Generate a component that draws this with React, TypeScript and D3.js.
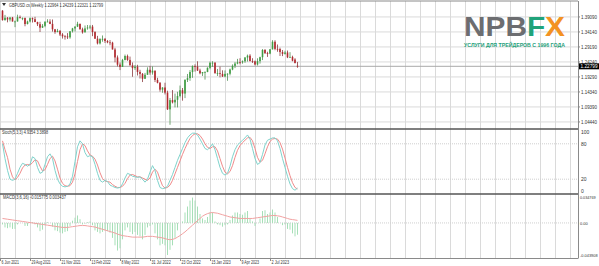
import React from "react";
import * as d3 from "d3";

// ---------- DATA (weekly bars from 13 Jun 2021) ----------
const opens = [1.4115,1.3805,1.3882,1.3825,1.3890,1.3758,1.3760,1.3900,1.3870,1.3872,
1.3675,1.3759,1.3868,1.3835,1.3740,1.3670,1.3555,1.3615,1.3745,1.3755,
1.3680,1.3500,1.3410,1.3450,1.3330,1.3270,1.3265,1.3235,1.3435,1.3530,
1.3590,1.3680,1.3500,1.3400,1.3530,1.3560,1.3590,1.3410,1.3190,1.3035,
1.3180,1.3185,1.3115,1.3070,1.3060,1.2835,1.2572,1.2335,1.2260,1.2490,
1.2620,1.2490,1.2310,1.2220,1.2265,1.2095,1.2030,1.1870,1.2000,1.2165,
1.2075,1.2135,1.1830,1.1735,1.1510,1.1580,1.1410,1.0860,1.1165,1.1090,
1.1175,1.1300,1.1490,1.1380,1.1830,1.1890,1.2090,1.2285,1.2270,1.2140,
1.2050,1.2090,1.2095,1.2230,1.2395,1.2398,1.2050,1.2055,1.2030,1.1945,
1.2030,1.2035,1.2175,1.2295,1.2370,1.2415,1.2410,1.2445,1.2570,1.2630,
1.2450,1.2445,1.2340,1.2450,1.2580,1.2820,1.2715,1.2700,1.2840,1.3090,
1.2855,1.2850,1.2750,1.2690,1.2735,1.2575,1.2590,1.2505,1.22964];
const highs = [1.4134,1.3976,1.3905,1.3908,1.3910,1.3790,1.3984,1.3958,1.3892,1.3890,
1.3787,1.3891,1.3890,1.3913,1.3751,1.3749,1.3674,1.3774,1.3834,1.3834,
1.3825,1.3513,1.3514,1.3475,1.3375,1.3309,1.3375,1.3438,1.3549,1.3599,
1.3749,1.3690,1.3555,1.3628,1.3643,1.3643,1.3645,1.3437,1.3285,1.3208,
1.3298,1.3215,1.3145,1.3146,1.3090,1.2890,1.2638,1.2406,1.2525,1.2667,
1.2667,1.2600,1.2406,1.2324,1.2330,1.2165,1.2059,1.2063,1.2246,1.2293,
1.2276,1.2140,1.1900,1.1760,1.1590,1.1738,1.1475,1.1235,1.1495,1.1380,
1.1440,1.1645,1.1564,1.1855,1.2028,1.2154,1.2310,1.2345,1.2446,1.2200,
1.2086,1.2110,1.2246,1.2436,1.2448,1.2418,1.2193,1.2270,1.2148,1.2144,
1.2050,1.2204,1.2343,1.2424,1.2525,1.2546,1.2474,1.2585,1.2667,1.2680,
1.2547,1.2472,1.2544,1.2597,1.2848,1.2848,1.2760,1.2850,1.3142,1.3140,
1.3000,1.2895,1.2818,1.2794,1.2800,1.2746,1.2630,1.2548,1.24239];
const lows = [1.3787,1.3786,1.3731,1.3760,1.3759,1.3572,1.3757,1.3862,1.3802,1.3601,
1.3662,1.3727,1.3726,1.3738,1.3609,1.3412,1.3545,1.3571,1.3740,1.3671,
1.3424,1.3353,1.3404,1.3280,1.3195,1.3160,1.3180,1.3190,1.3395,1.3430,
1.3575,1.3495,1.3358,1.3400,1.3487,1.3505,1.3274,1.3187,1.3002,1.2999,
1.3092,1.3050,1.3040,1.2973,1.2836,1.2411,1.2275,1.2155,1.2260,1.2475,
1.2459,1.2315,1.1934,1.2160,1.1976,1.1876,1.1760,1.1860,1.2000,1.2002,
1.2005,1.1760,1.1717,1.1444,1.1407,1.1351,1.0839,1.0350,1.1055,1.0924,
1.0923,1.1255,1.1146,1.1230,1.1762,1.1801,1.1900,1.2106,1.2125,1.2017,
1.1962,1.1841,1.2085,1.2180,1.2263,1.2042,1.1961,1.1915,1.1927,1.1920,
1.1802,1.1980,1.2150,1.2220,1.2346,1.2345,1.2367,1.2395,1.2436,1.2445,
1.2390,1.2308,1.2307,1.2368,1.2485,1.2686,1.2590,1.2678,1.2835,1.2810,
1.2760,1.2620,1.2616,1.2666,1.2550,1.2560,1.2445,1.2380,1.22321];
const closes = [1.3805,1.3882,1.3825,1.3890,1.3758,1.3760,1.3900,1.3870,1.3872,1.3675,
1.3759,1.3868,1.3835,1.3740,1.3670,1.3555,1.3615,1.3745,1.3755,1.3680,
1.3500,1.3410,1.3450,1.3330,1.3270,1.3265,1.3235,1.3435,1.3530,1.3590,
1.3680,1.3500,1.3400,1.3530,1.3560,1.3590,1.3410,1.3190,1.3035,1.3180,
1.3185,1.3115,1.3070,1.3060,1.2835,1.2572,1.2335,1.2260,1.2490,1.2620,
1.2490,1.2310,1.2220,1.2265,1.2095,1.2030,1.1870,1.2000,1.2165,1.2075,
1.2135,1.1830,1.1735,1.1510,1.1580,1.1410,1.0860,1.1165,1.1090,1.1175,
1.1300,1.1490,1.1380,1.1830,1.1890,1.2090,1.2285,1.2270,1.2140,1.2050,
1.2090,1.2095,1.2230,1.2395,1.2398,1.2050,1.2055,1.2030,1.1945,1.2030,
1.2035,1.2175,1.2295,1.2370,1.2415,1.2410,1.2445,1.2570,1.2630,1.2450,
1.2445,1.2340,1.2450,1.2580,1.2820,1.2715,1.2700,1.2840,1.3090,1.2855,
1.2850,1.2750,1.2690,1.2735,1.2575,1.2590,1.2465,1.2385,1.22799];

const stochMain = [80,55,35,20,18,20,30,40,47,45,
42,45,58,55,40,30,32,45,58,63,
55,35,20,12,8,7,8,12,25,50,
75,85,80,65,58,60,58,45,30,18,
15,18,16,10,8,6,5,6,12,22,
30,28,25,24,23,24,20,15,20,32,
43,35,18,6,4,5,8,18,28,40,
52,62,72,82,90,95,98,98,95,88,
80,72,70,74,80,70,55,40,30,27,
30,42,58,70,78,82,86,90,95,88,
72,55,45,48,62,78,86,88,90,90,
85,72,55,40,25,12,4,1.3,4.94];
const stochSignal = [85,70,57,37,24,19,23,30,39,44,
45,44,48,53,51,42,34,36,45,55,
59,51,37,22,13,9,8,9,15,29,
50,70,80,77,68,61,59,54,44,31,
21,17,16,15,11,8,6,6,8,13,
21,27,28,26,24,24,22,20,18,22,
32,37,32,20,9,5,6,10,18,29,
40,51,62,72,81,89,94,97,97,94,
88,80,74,72,75,75,68,55,42,32,
29,33,43,57,69,77,82,86,90,91,
85,72,57,49,52,63,75,84,88,89,
88,82,71,56,40,26,14,6,3.39];

const macdHist = [-0.002,-0.006,-0.007,-0.006,-0.008,-0.008,-0.002,0.000,0.000,-0.004,
-0.004,0.000,0.001,-0.002,-0.006,-0.011,-0.009,-0.003,0.001,0.000,
-0.005,-0.010,-0.011,-0.013,-0.014,-0.012,-0.011,-0.004,0.003,0.007,
0.010,0.005,-0.002,-0.001,0.001,0.002,-0.003,-0.010,-0.012,-0.014,
-0.012,-0.010,-0.011,-0.013,-0.020,-0.030,-0.037,-0.034,-0.022,-0.010,
-0.006,-0.012,-0.015,-0.012,-0.016,-0.018,-0.022,-0.016,-0.006,-0.004,
-0.002,-0.014,-0.022,-0.030,-0.028,-0.030,-0.043,-0.036,-0.030,-0.020,
-0.010,0.000,0.002,0.014,0.022,0.030,0.034,0.030,0.022,0.012,
0.006,0.004,0.008,0.014,0.014,0.002,-0.002,-0.003,-0.005,-0.003,
-0.002,0.004,0.010,0.014,0.014,0.012,0.011,0.014,0.016,0.006,
0.002,-0.004,0.000,0.006,0.016,0.017,0.012,0.014,0.018,0.014,
0.008,0.000,-0.003,-0.002,-0.008,-0.009,-0.014,-0.018,-0.015775];
const macdSignal = [0.006,0.0055,0.005,0.0045,0.004,0.0035,0.003,0.0025,0.002,0.0015,
0.001,0.0005,0.000,-0.0005,-0.001,-0.0015,-0.002,-0.0025,-0.003,-0.0035,
-0.004,-0.0045,-0.005,-0.0055,-0.006,-0.006,-0.006,-0.0055,-0.005,-0.0045,
-0.004,-0.0035,-0.0035,-0.0035,-0.004,-0.0045,-0.005,-0.0055,-0.0065,-0.0075,
-0.0085,-0.0095,-0.0105,-0.0115,-0.0125,-0.0135,-0.015,-0.016,-0.017,-0.0175,
-0.018,-0.0185,-0.019,-0.019,-0.019,-0.019,-0.019,-0.0185,-0.018,-0.018,
-0.018,-0.0185,-0.019,-0.0195,-0.020,-0.021,-0.022,-0.0225,-0.022,-0.021,
-0.019,-0.017,-0.0145,-0.012,-0.009,-0.006,-0.003,0.000,0.003,0.006,
0.009,0.011,0.0125,0.0135,0.014,0.0135,0.013,0.012,0.011,0.010,
0.009,0.008,0.0075,0.007,0.0065,0.006,0.006,0.006,0.006,0.006,
0.006,0.0065,0.007,0.0075,0.008,0.0085,0.009,0.0095,0.010,0.010,
0.0095,0.009,0.008,0.007,0.006,0.005,0.0045,0.004,0.003437];

const dateLabels = ["6 Jun 2021","29 Aug 2021","21 Nov 2021","13 Feb 2022","8 May 2022","31 Jul 2022","23 Oct 2022","15 Jan 2023","9 Apr 2023","2 Jul 2023"];
const priceTicks = [1.39090,1.34140,1.29190,1.24240,1.19290,1.14340,1.09390,1.04440];
const stochLevels = [100,80,20,0];
const macdTicks = [0.034769,0,-0.043908];
const macdTickLabels = ["0.034769","0.00","-0.043908"];
const mainLegend = "GBPUSD.cs,Weekly  1.22964 1.24239 1.22321 1.22799";
const stochLegend = "Stoch(5,3,3) 4.9354 3.3898";
const macdLegend = "MACD(3,6,16) -0.015775 0.003437";

// ---------- LAYOUT ----------
const W = 599, H = 266;
const AX = 578;
const FONT = "'Liberation Sans', Arial, sans-serif";

export default function App() {
  const n = closes.length;
  const x = d3.scaleLinear().domain([-1, 229]).range([0, 575]);
  const yP = d3.scaleLinear().domain([1.0244, 1.4336]).range([128, 4]);
  const yS = d3.scaleLinear().domain([0, 100]).range([191, 132]);
  const yM = d3.scaleLinear().domain([-0.043908, 0.034769]).range([255.7, 197]);
  const idx = d3.range(n);
  const gridIdx = d3.range(0, 39).map((k) => -1 + 6 * k);
  const labelIdx = dateLabels.map((_, k) => -1 + 12 * k);

  const lineS = d3.line<number>().x((_, i) => x(i)).y((v) => yS(v));
  const lineM = d3.line<number>().x((_, i) => x(i)).y((v) => yM(v));
  const last = closes[n - 1];
  const grid = "#dadada";

  return (
    <svg width={W} height={H} style={{ position: "absolute", left: 0, top: 0, background: "#fff" }} fontFamily={FONT}>
      <rect x={0} y={0} width={W} height={H} fill="#fff" />
      {/* vertical grid */}
      {gridIdx.map((i) => (
        <line key={"vg" + i} x1={x(i) + 0.5} x2={x(i) + 0.5} y1={1} y2={258} stroke={grid} strokeWidth={1} />
      ))}
      {/* price grid */}
      {priceTicks.map((t) => (
        <line key={"hg" + t} x1={0} x2={AX} y1={yP(t)} y2={yP(t)} stroke={grid} strokeWidth={1} />
      ))}
      {/* stoch levels */}
      {[80, 20].map((t) => (
        <line key={"sl" + t} x1={0} x2={AX} y1={yS(t)} y2={yS(t)} stroke="#cfcfcf" strokeWidth={1} strokeDasharray="1,1" />
      ))}
      <line x1={0} x2={AX} y1={yM(0)} y2={yM(0)} stroke="#cfcfcf" strokeWidth={1} strokeDasharray="1,1" />

      {/* logo */}
      <text x={464} y={35.5} fontSize={28} fontWeight="bold" fontFamily={FONT} textLength={101} lengthAdjust="spacingAndGlyphs">
        <tspan fill="#6c6d70">NPB</tspan>
        <tspan fill="#20a37a">F</tspan>
        <tspan fill="#f39222">X</tspan>
      </text>
      <text x={464} y={46.5} fontSize={5.5} fontWeight="bold" fill="#1ea07a" textLength={101} lengthAdjust="spacingAndGlyphs">
        УСЛУГИ ДЛЯ ТРЕЙДЕРОВ С 1996 ГОДА
      </text>

      {/* current price line */}
      <line x1={0} x2={AX} y1={yP(last)} y2={yP(last)} stroke="#a9a9a9" strokeWidth={1} />

      {/* candles */}
      {idx.map((i) => {
        const up = closes[i] >= opens[i];
        const c = up ? "#3f9d43" : "#b3282d";
        const top = yP(Math.max(opens[i], closes[i]));
        const bot = yP(Math.min(opens[i], closes[i]));
        return (
          <g key={"c" + i}>
            <line x1={x(i)} x2={x(i)} y1={yP(highs[i])} y2={yP(lows[i])} stroke={up ? "#4f8f52" : "#8a3a3d"} strokeWidth={0.8} />
            <rect x={x(i) - 0.8} y={top} width={1.6} height={Math.max(0.8, bot - top)} fill={c} />
          </g>
        );
      })}

      {/* stochastic */}
      <path d={lineS(stochSignal) || ""} fill="none" stroke="#f08a8a" strokeWidth={1} />
      <path d={lineS(stochMain) || ""} fill="none" stroke="#7fd3cc" strokeWidth={1} />

      {/* MACD */}
      {idx.map((i) => (
        <line key={"h" + i} x1={x(i)} x2={x(i)} y1={yM(0)} y2={yM(macdHist[i])} stroke="#a6dfb7" strokeWidth={1} />
      ))}
      <path d={lineM(macdSignal) || ""} fill="none" stroke="#f2a2a2" strokeWidth={1} />

      {/* panel borders */}
      <line x1={0} x2={AX} y1={1} y2={1} stroke="#8a8a8a" strokeWidth={1} />
      <line x1={0} x2={AX} y1={129} y2={129} stroke="#555" strokeWidth={1.6} />
      <line x1={0} x2={AX} y1={194} y2={194} stroke="#555" strokeWidth={1.6} />
      <line x1={0} x2={AX} y1={258.5} y2={258.5} stroke="#8a8a8a" strokeWidth={1} />
      <line x1={AX + 0.5} x2={AX + 0.5} y1={1} y2={258.5} stroke="#8a8a8a" strokeWidth={1} />

      {/* legends */}
      <path d="M2,3 L6,3 L4,6 Z" fill="#333" />
      <text x={9} y={6.5} fontSize={5} fill="#333" textLength={94} lengthAdjust="spacingAndGlyphs">{mainLegend}</text>
      <text x={2} y={134} fontSize={5} fill="#333" textLength={46} lengthAdjust="spacingAndGlyphs">{stochLegend}</text>
      <text x={3} y={199} fontSize={5} fill="#333" textLength={63} lengthAdjust="spacingAndGlyphs">{macdLegend}</text>

      {/* price axis */}
      {priceTicks.map((t) => (
        <g key={"pt" + t}>
          <line x1={AX} x2={AX + 2} y1={yP(t)} y2={yP(t)} stroke="#8a8a8a" />
          <text x={581} y={yP(t) + 1.8} fontSize={5} fill="#333" textLength={16} lengthAdjust="spacingAndGlyphs">{t.toFixed(5)}</text>
        </g>
      ))}
      <rect x={579} y={yP(last) - 3} width={20} height={6} fill="#000" />
      <text x={580.5} y={yP(last) + 1.9} fontSize={5} fill="#fff" textLength={17} lengthAdjust="spacingAndGlyphs">{last.toFixed(5)}</text>

      {/* stoch axis */}
      {stochLevels.map((t) => (
        <text key={"st" + t} x={581} y={yS(t) + 1.8} fontSize={5} fill="#333">{t}</text>
      ))}
      {/* macd axis */}
      {macdTicks.map((t, k) => (
        <text key={"mt" + k} x={580 + macdTickLabels[k].length * 1.95} y={yM(t) + 1.6} fontSize={4.4} fill="#333" textAnchor="end" textLength={macdTickLabels[k].length * 1.95} lengthAdjust="spacingAndGlyphs">{macdTickLabels[k]}</text>
      ))}

      {/* date axis */}
      {labelIdx.map((i, k) => (
        <g key={"d" + k}>
          <line x1={x(i) + 0.5} x2={x(i) + 0.5} y1={258.5} y2={261} stroke="#8a8a8a" />
          <text x={x(i) + 1.5} y={264} fontSize={5} fill="#333" textLength={dateLabels[k].length * 1.75} lengthAdjust="spacingAndGlyphs">{dateLabels[k]}</text>
        </g>
      ))}
    </svg>
  );
}
